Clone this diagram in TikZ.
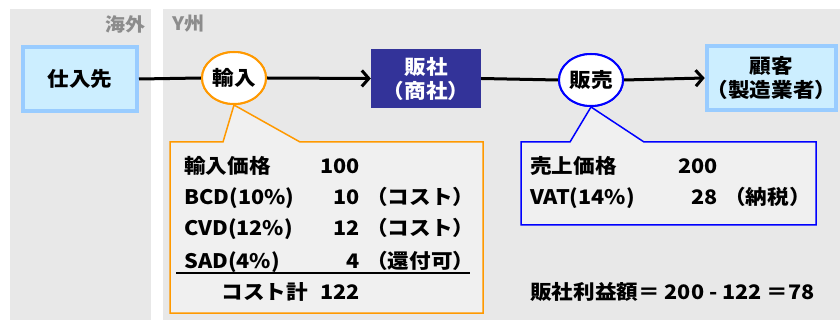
\documentclass[tikz,border=0pt]{standalone}
\usepackage{fontspec}
\setmainfont{Noto Sans CJK JP}[FakeStretch=1.08]
\usetikzlibrary{arrows.meta,shapes.geometric}
\definecolor{bggray}{HTML}{E8E8E8}
\definecolor{lblgray}{HTML}{8C8C8C}
\definecolor{lbfill}{HTML}{CCEEFF}
\definecolor{lbborder}{HTML}{99CCFF}
\definecolor{navy}{HTML}{333399}
\definecolor{orng}{HTML}{FF9900}
\definecolor{bblue}{HTML}{0000FF}
\definecolor{callfill}{HTML}{F0F0F0}
\tikzset{
  txt/.style={inner sep=0pt, font=\fontsize{20}{23}\selectfont\bfseries},
  party/.style={draw=lbborder, line width=4pt, fill=lbfill, minimum width=114pt, minimum height=64pt, inner sep=0pt, font=\fontsize{20}{24}\selectfont\bfseries, align=center},
  act/.style={ellipse, fill=white, line width=2pt, minimum width=64pt, minimum height=52pt, inner sep=0pt, font=\fontsize{20}{23}\selectfont\bfseries},
  flow/.style={line width=3pt},
  flowarr/.style={line width=3pt, -{Straight Barb[length=7pt,width=16pt]}},
  lbl/.style={inner sep=0pt, text=lblgray, font=\fontsize{18.5}{21}\selectfont\bfseries},
}
\begin{document}
\begin{tikzpicture}[x=1pt,y=-1pt]
\useasboundingbox (0,0) rectangle (840,320);
% regions
\fill[bggray] (10,9) rectangle (151,320);
\fill[bggray] (163,9) rectangle (840,320);
\node[lbl, anchor=east] (lovs) at (146,24) {海外};
\node[lbl, anchor=west] (lstate) at (172,24) {Y州};
% nodes
\node[party] (sup) at (80,79) {仕入先};
\node[act, draw=orng] (imp) at (234,78) {輸入};
\node[draw=none, fill=navy, text=white, minimum width=110pt, minimum height=59pt, inner sep=0pt, font=\fontsize{20}{24}\selectfont\bfseries, align=center] (dist) at (426,78.5) {販社\\（商社）};
\node[act, draw=bblue] (sale) at (591,80) {販売};
\node[party, minimum width=115pt, minimum height=64pt] (cust) at (771.5,78) {顧客\\（製造業者）};
% connectors
\draw[flow] (sup.east) -- (imp.west);
\draw[flowarr] (imp.east) -- (dist.west);
\draw[flow] (dist.east) -- (sale.west);
\draw[flowarr] (sale.east) -- (cust.west);
% callouts
\draw[orng, line width=1.5pt, fill=callfill, line join=miter] (170,142) -- (223,142) -- (imp.south) -- (300,142) -- (483,142) -- (483,313) -- (170,313) -- cycle;
\draw[bblue, line width=1.5pt, fill=callfill, line join=miter] (521,142) -- (570,142) -- (sale.south) -- (644,142) -- (816,142) -- (816,225) -- (521,225) -- cycle;
% redraw ellipses over pointer tips
\node[act, draw=orng] at (imp) {輸入};
\node[act, draw=bblue] at (sale) {販売};
% orange callout text
\node[txt, anchor=base west] (r1a) at (184,174) {輸入価格};
\node[txt, anchor=base east] (r1b) at (360,174) {100};
\node[txt, anchor=base west] (r2a) at (184,205) {BCD(10\%)};
\node[txt, anchor=base east] (r2b) at (360,205) {10};
\node[txt, anchor=base west] (r2c) at (366,205) {（コスト）};
\node[txt, anchor=base west] (r3a) at (184,236) {CVD(12\%)};
\node[txt, anchor=base east] (r3b) at (360,236) {12};
\node[txt, anchor=base west] (r3c) at (366,236) {（コスト）};
\node[txt, anchor=base west] (r4a) at (184,269) {SAD(4\%)};
\node[txt, anchor=base east] (r4b) at (360,269) {4};
\node[txt, anchor=base west] (r4c) at (366,269) {（還付可）};
\coordinate (ulA) at (176,273);
\coordinate (ulB) at (470,273);
\draw[line width=2pt] (ulA) -- (ulB);
\node[txt, anchor=base east] (r5a) at (308,299) {コスト計};
\node[txt, anchor=base east] (r5b) at (360,299) {122};
% blue callout text
\node[txt, anchor=base west] (s1a) at (530,174) {売上価格};
\node[txt, anchor=base east] (s1b) at (718,174) {200};
\node[txt, anchor=base west] (s2a) at (530,205) {VAT(14\%)};
\node[txt, anchor=base east] (s2b) at (718,205) {28};
\node[txt, anchor=base west] (s2c) at (724,205) {（納税）};
% profit
\node[txt, anchor=base west] (profit) at (530,299) {販社利益額＝ 200 - 122 ＝78};
\end{tikzpicture}
\end{document}
